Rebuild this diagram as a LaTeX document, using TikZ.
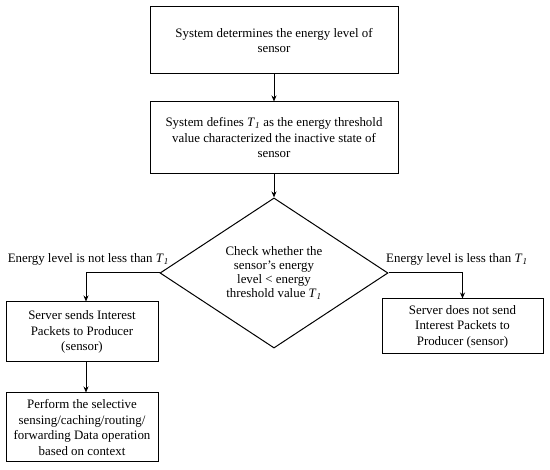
\documentclass[tikz,border=0pt]{standalone}
\usepackage{fontspec}
\setmainfont{Liberation Serif}
\usetikzlibrary{shapes.geometric,arrows.meta}
\newcommand{\Tone}{\textit{T}\textsubscript{\textit{1}}}
\begin{document}
\begin{tikzpicture}[x=1pt,y=1pt,
  every node/.style={font=\fontsize{12.9}{15.5}\selectfont},
  procbox/.style={draw,line width=1pt,align=center,inner sep=0pt},
  decbox/.style={draw,diamond,line width=1pt,align=center,inner sep=0pt,
    minimum width=228pt,minimum height=142pt,font=\fontsize{12.9}{14.2}\selectfont},
  flow/.style={draw,line width=1pt,-{Stealth[length=6pt,width=5pt]}},
  lbl/.style={inner sep=0pt}]
\useasboundingbox (0,0) rectangle (550,-470);
\node[procbox,minimum width=248pt,minimum height=67pt] (b1) at (274,-40.5)
  {System determines the energy level of\\sensor};
\node[procbox,minimum width=248pt,minimum height=72pt] (b2) at (274,-138)
  {System defines \Tone{} as the energy threshold\\value characterized the inactive state of\\sensor};
\node[decbox] (d) at (274,-273)
  {Check whether the\\sensor’s energy\\level < energy\\threshold value \Tone};
\node[procbox,minimum width=152pt,minimum height=60pt] (b3) at (82,-332)
  {Server sends Interest\\Packets to Producer\\(sensor)};
\node[procbox,minimum width=152pt,minimum height=69pt] (b4) at (82,-427.5)
  {Perform the selective\\sensing/caching/routing/\\forwarding Data operation\\based on context};
\node[procbox,minimum width=161pt,minimum height=55pt] (b5) at (462.5,-326.5)
  {Server does not send\\Interest Packets to\\Producer (sensor)};
\node[lbl,anchor=base east] (l1) at (169,-263) {Energy level is not less than \Tone};
\node[lbl,anchor=base west] (l2) at (386,-263) {Energy level is less than \Tone};
\draw[flow] (b1) -- (b2);
\draw[flow] (b2) -- (d);
\draw[flow] (d.west) -| ([xshift=4pt]b3.north);
\draw[flow] (d.east) -| (b5.north);
\draw[flow] ([xshift=4pt]b3.south) -- ([xshift=4pt]b4.north);
\end{tikzpicture}
\end{document}
